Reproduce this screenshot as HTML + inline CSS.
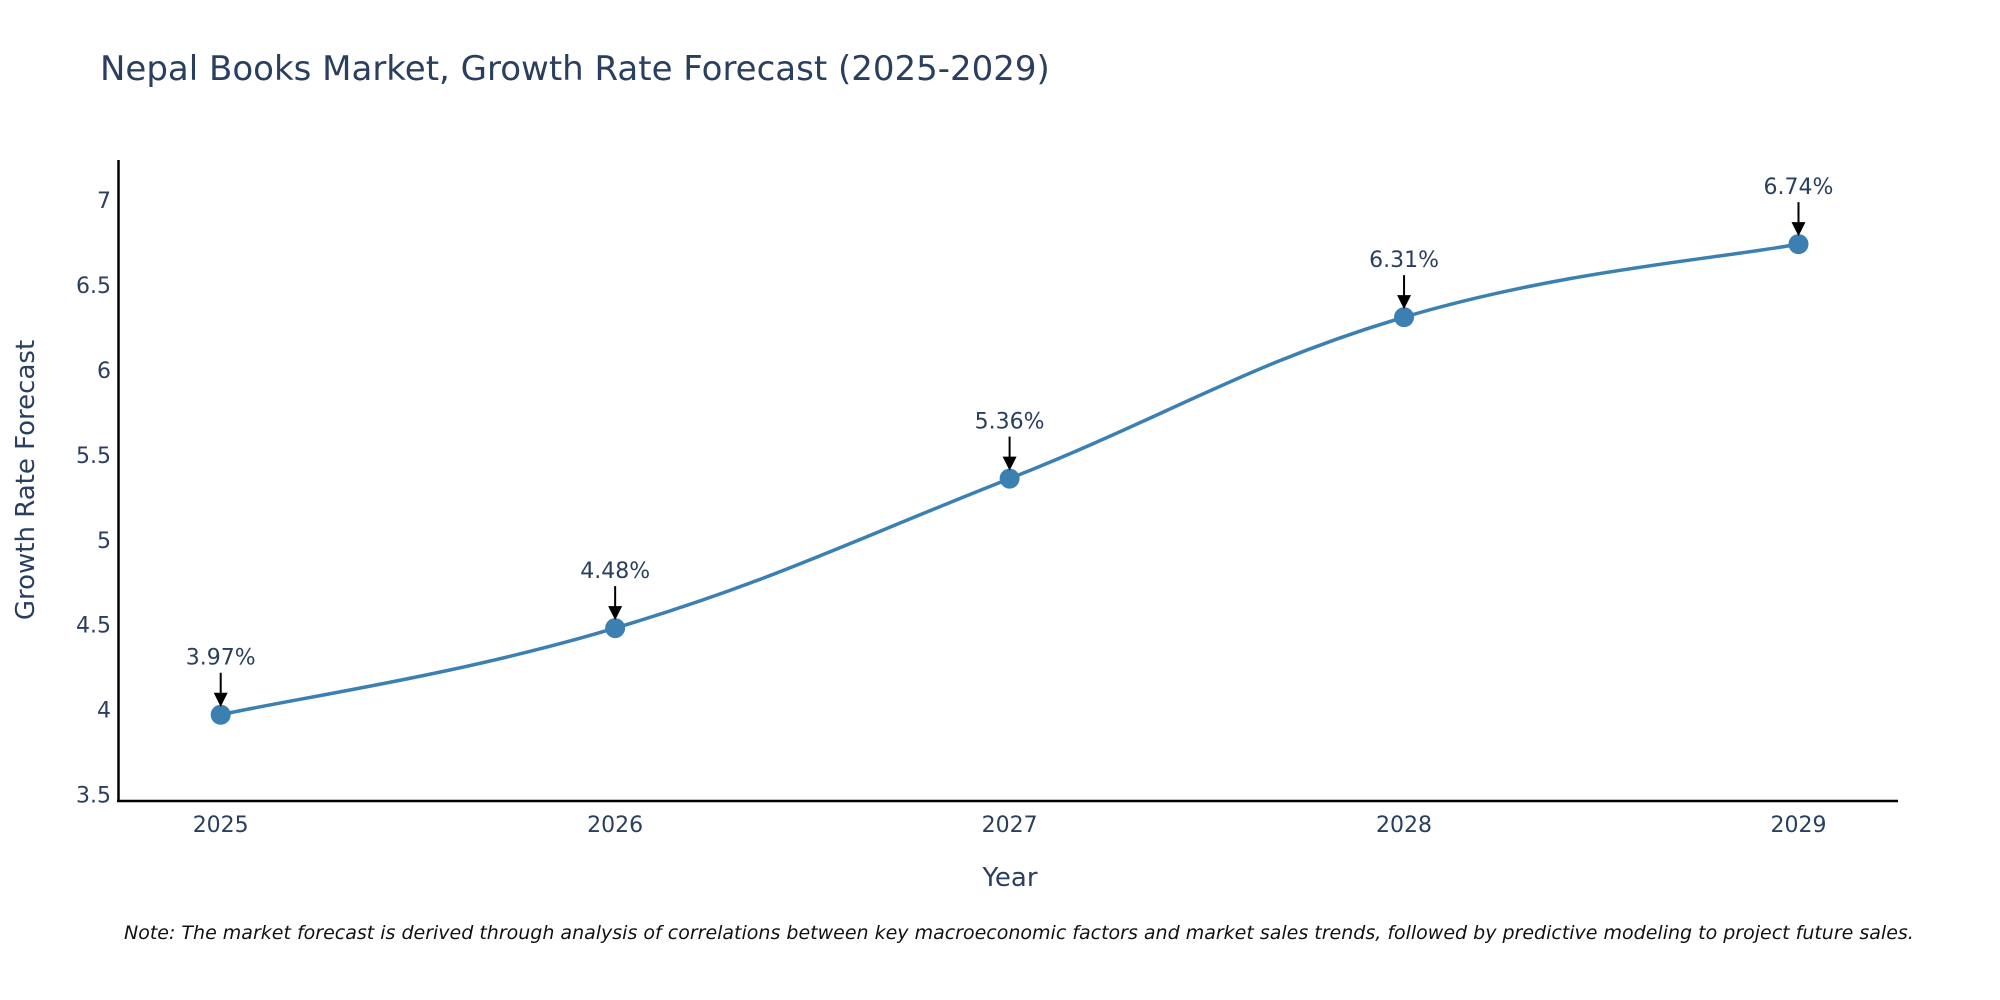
<!DOCTYPE html>
<html><head><meta charset="utf-8"><style>
html,body{margin:0;padding:0;background:#fff;}
svg{display:block;font-family:"DejaVu Sans","Liberation Sans",sans-serif;}
</style></head><body>
<svg id="chart" width="2000" height="1000" viewBox="0 0 2000 1000">
<text x="100" y="80" font-size="34" fill="#2a3f5f">Nepal Books Market, Growth Rate Forecast (2025-2029)</text>
<g id="axes"></g>
<g id="series"></g>
<text x="1010" y="886" font-size="26" fill="#2a3f5f" text-anchor="middle">Year</text>
<text transform="translate(34,480) rotate(-90)" font-size="26" fill="#2a3f5f" text-anchor="middle">Growth Rate Forecast</text>
<text x="124" y="939" font-size="19" font-style="italic" fill="#111">Note: The market forecast is derived through analysis of correlations between key macroeconomic factors and market sales trends, followed by predictive modeling to project future sales.</text>
</svg>
<script>
const years = [2025, 2026, 2027, 2028, 2029];
const values = [3.97, 4.48, 5.36, 6.31, 6.74];
const labels = ["3.97%", "4.48%", "5.36%", "6.31%", "6.74%"];
const yTicks = [3.5, 4, 4.5, 5, 5.5, 6, 6.5, 7];
const yTickLabels = ["3.5", "4", "4.5", "5", "5.5", "6", "6.5", "7"];

const NS = "http://www.w3.org/2000/svg";
const x = v => 220.7 + (v - 2025) * 394.45;
const y = v => 794.6 - (v - 3.5) * 169.9;
function mk(tag, attrs, parent, txt) {
  const e = document.createElementNS(NS, tag);
  for (const k in attrs) e.setAttribute(k, attrs[k]);
  if (txt !== undefined) e.textContent = txt;
  parent.appendChild(e);
  return e;
}
const axes = document.getElementById('axes');
const ser = document.getElementById('series');
let l = mk('line', {x1:118.5, y1:160, x2:118.5, y2:802, stroke:'#000', 'stroke-width':2.5}, axes);


l = mk('line', {x1:117, y1:801, x2:1898, y2:801, stroke:'#000', 'stroke-width':2.5}, axes);


yTicks.forEach((t, i) => {
  const e = mk('text', {x:111, y:y(t)+8, 'font-size':22, fill:'#2a3f5f', 'text-anchor':'end'}, axes, yTickLabels[i]);
  
  
});
years.forEach(yr => {
  const e = mk('text', {x:x(yr), y:832, 'font-size':22, fill:'#2a3f5f', 'text-anchor':'middle'}, axes, String(yr));
  
  
});
const pts = years.map((yr, i) => [x(yr), y(values[i])]);
let d = `M${pts[0][0]},${pts[0][1]}`;
const sm = 0.2;
for (let i = 0; i < pts.length - 1; i++) {
  const p0 = pts[Math.max(0, i-1)], p1 = pts[i], p2 = pts[i+1], p3 = pts[Math.min(pts.length-1, i+2)];
  const c1 = [p1[0] + (p2[0]-p0[0])*sm, p1[1] + (p2[1]-p0[1])*sm];
  const c2 = [p2[0] - (p3[0]-p1[0])*sm, p2[1] - (p3[1]-p1[1])*sm];
  d += ` C${c1[0]},${c1[1]} ${c2[0]},${c2[1]} ${p2[0]},${p2[1]}`;
}
const path = mk('path', {d:d, fill:'none', stroke:'#3b80b0', 'stroke-width':3.5}, ser);


pts.forEach((p, i) => {
  const c = mk('circle', {cx:p[0], cy:p[1], r:10, fill:'#3b80b0'}, ser);
  
  
  const a = mk('line', {x1:p[0], y1:p[1]-42, x2:p[0], y2:p[1]-20, stroke:'#000', 'stroke-width':2}, ser);
  
  
  const h = mk('polygon', {points:`${p[0]-7},${p[1]-22} ${p[0]+7},${p[1]-22} ${p[0]},${p[1]-8}`, fill:'#000'}, ser);
  
  
  const t = mk('text', {x:p[0], y:p[1]-50, 'font-size':22, fill:'#2a3f5f', 'text-anchor':'middle'}, ser, labels[i]);
  
  
});
</script>
</body></html>
